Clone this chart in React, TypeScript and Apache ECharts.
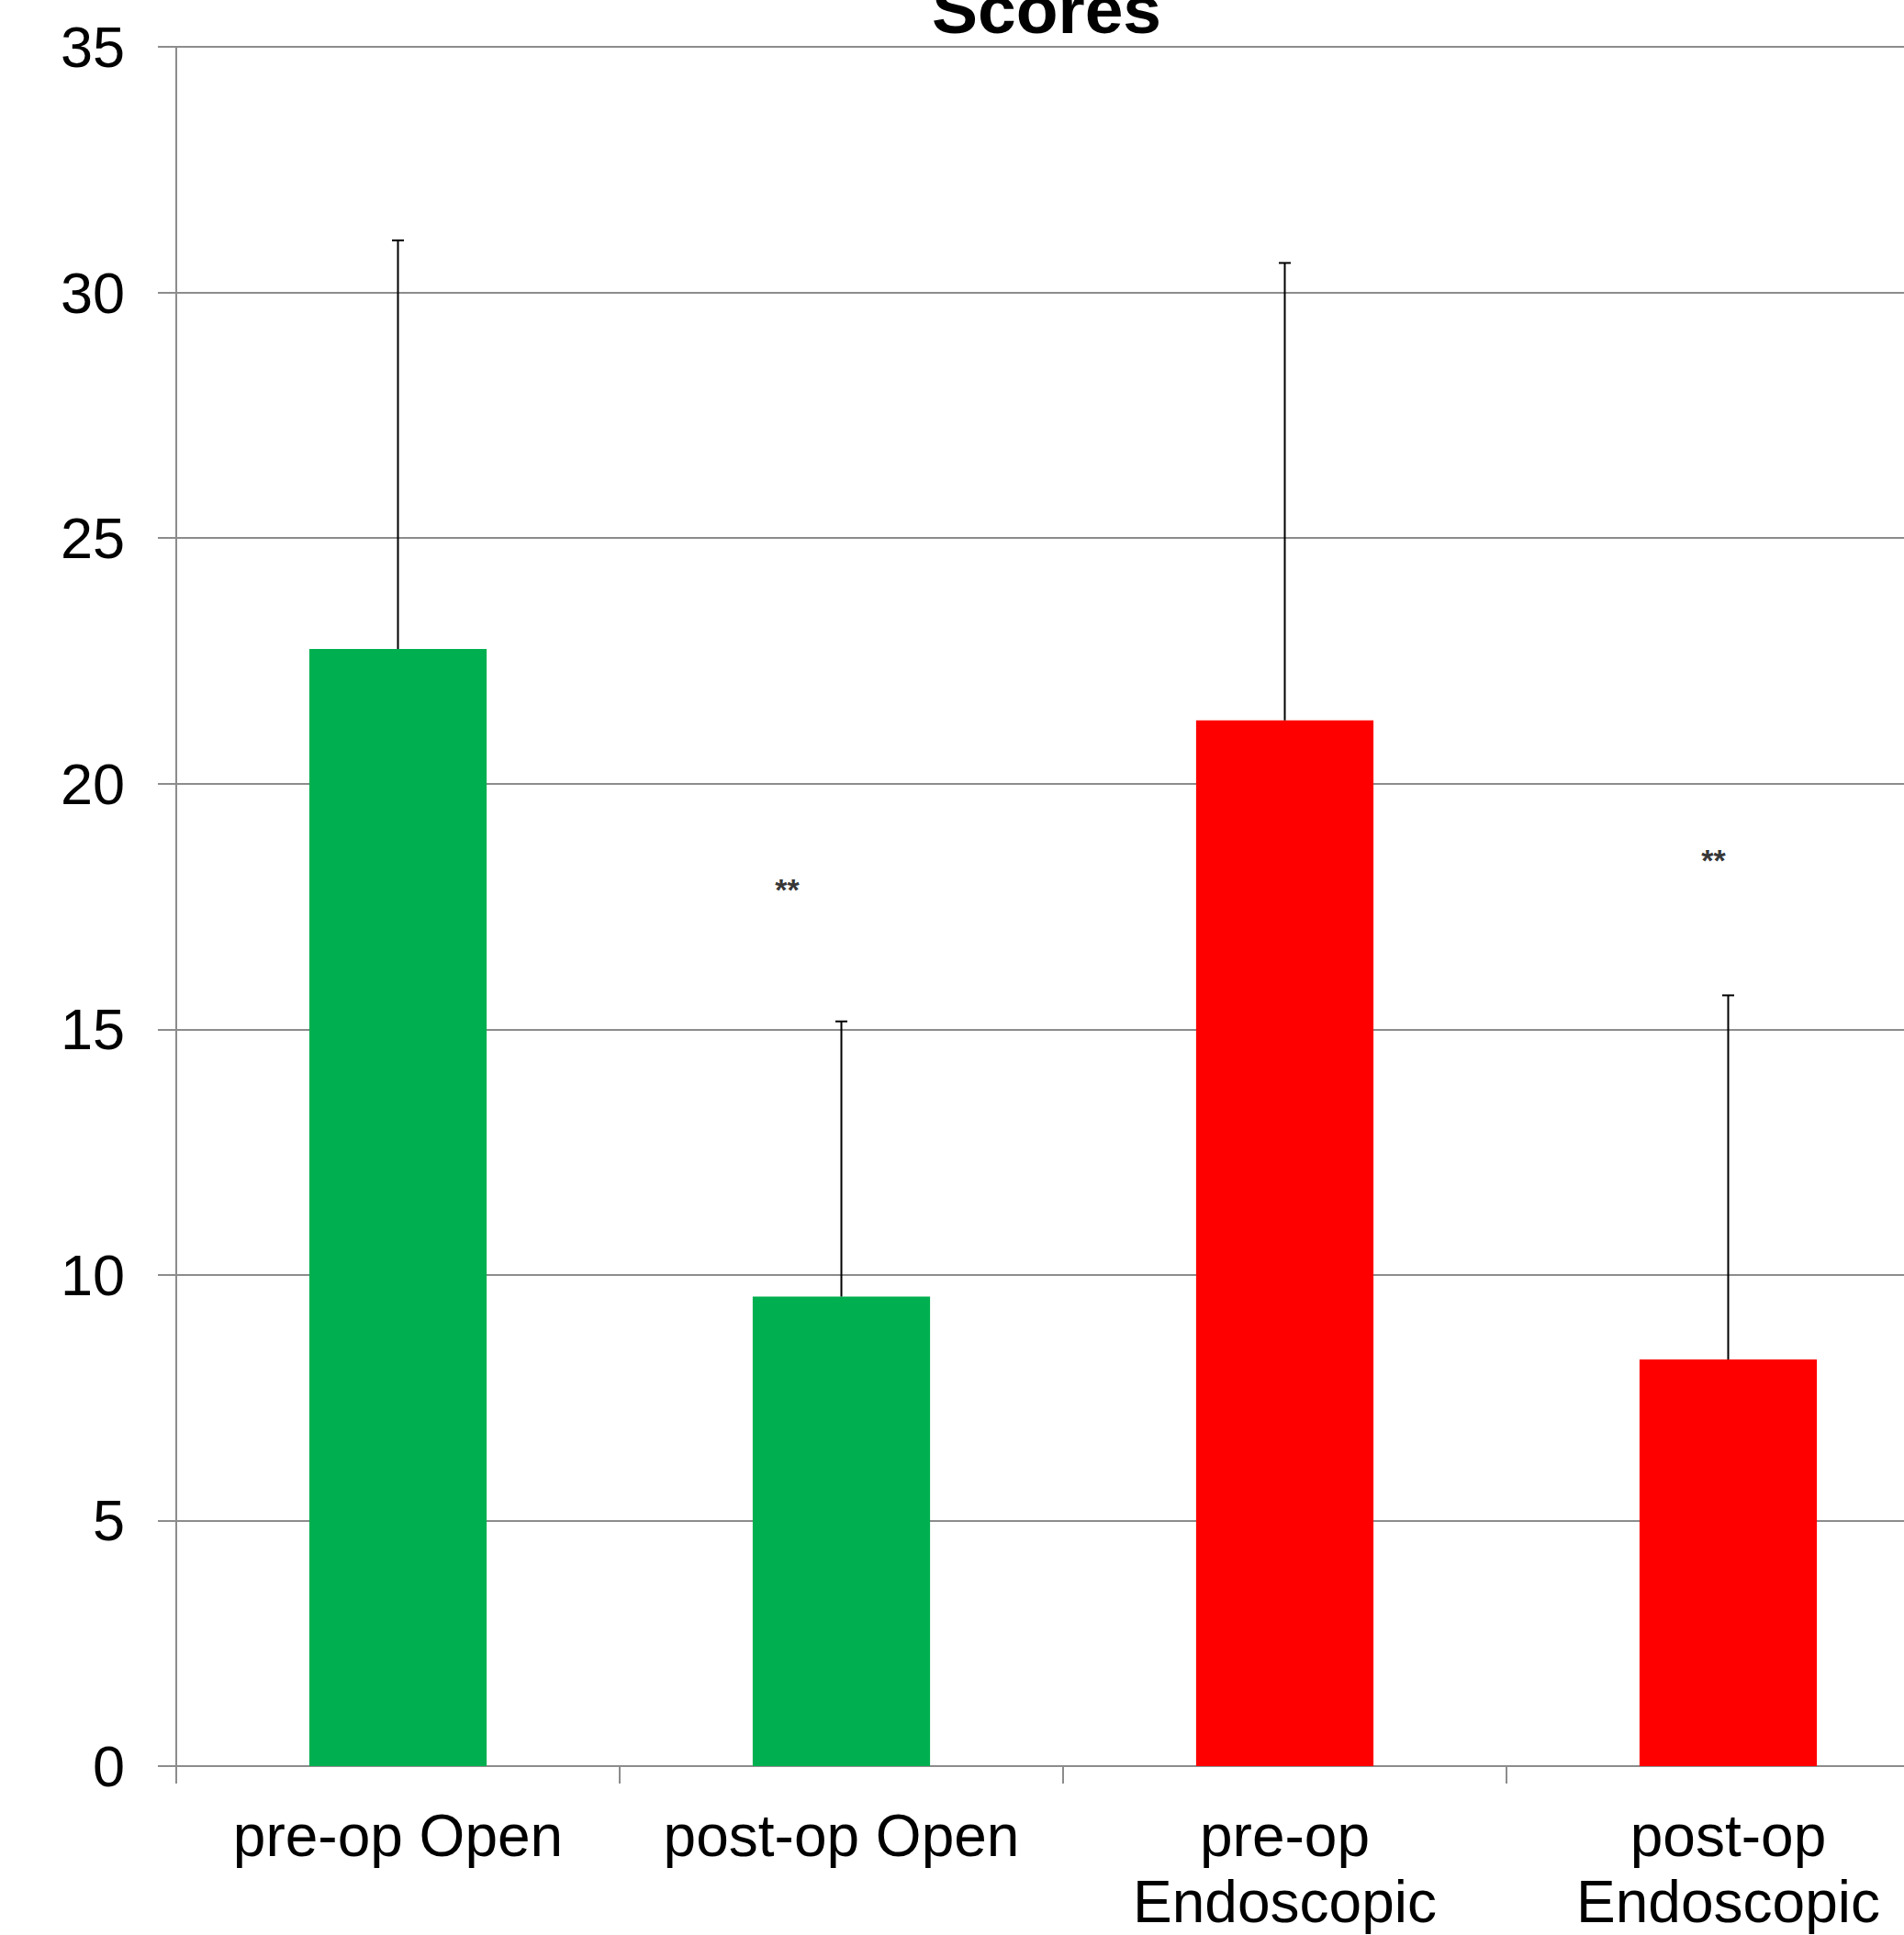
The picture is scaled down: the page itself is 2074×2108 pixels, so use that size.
import React, { useEffect, useRef } from "react";
import * as echarts from "echarts";

const categories = ["pre-op Open", "post-op Open", "pre-op\nEndoscopic", "post-op\nEndoscopic"];
const barValues = [22.74, 9.56, 21.29, 8.28];
const errorTops = [31.06, 15.16, 30.6, 15.69];
const barColors = ["#00B050", "#00B050", "#FF0000", "#FF0000"];
const yTicks = { min: 0, max: 35, interval: 5 };
const sigMarks = [
  { index: 1, value: 17.92, text: "**", dx: -59 },
  { index: 3, value: 18.52, text: "**", dx: -16 },
];
const titleText = "Scores";

export default function App() {
  const ref = useRef<HTMLDivElement>(null);
  useEffect(() => {
    document.body.style.margin = "0";
    document.documentElement.style.overflow = "hidden";
    const chart = echarts.init(ref.current!, null, { renderer: "svg" });
    const font = "'Liberation Sans', Arial, sans-serif";
    chart.setOption({
      animation: false,
      backgroundColor: "#ffffff",
      textStyle: { fontFamily: font },
      grid: { left: 192, top: 51, width: 1932, height: 1873, containLabel: false },
      graphic: [
        {
          type: "text",
          x: 1140,
          y: 47,
          style: {
            text: titleText,
            font: `bold 75px ${font}`,
            fill: "#000",
            align: "center",
            verticalAlign: "bottom",
          },
        },
      ],
      xAxis: {
        type: "category",
        data: categories,
        boundaryGap: true,
        axisLine: { lineStyle: { color: "#8c8c8c", width: 2 } },
        axisTick: { show: true, alignWithLabel: false, length: 19, lineStyle: { color: "#8c8c8c", width: 2 } },
        axisLabel: { color: "#000", fontSize: 64, lineHeight: 72, margin: 40, fontFamily: font, interval: 0 },
        splitLine: { show: false },
      },
      yAxis: {
        type: "value",
        min: yTicks.min,
        max: yTicks.max,
        interval: yTicks.interval,
        axisLine: { show: true, lineStyle: { color: "#8c8c8c", width: 2 } },
        axisTick: { show: true, length: 20, lineStyle: { color: "#8c8c8c", width: 2 } },
        axisLabel: { color: "#000", fontSize: 63, margin: 56, fontFamily: font },
        splitLine: { show: true, lineStyle: { color: "#8c8c8c", width: 2 } },
      },
      series: [
        {
          type: "bar",
          barWidth: "40%",
          data: barValues.map((v, i) => ({ value: v, itemStyle: { color: barColors[i] } })),
          z: 2,
        },
        {
          type: "custom",
          z: 3,
          data: barValues.map((v, i) => [i, v, errorTops[i]]),
          renderItem: (params: any, api: any) => {
            const base = api.coord([api.value(0), api.value(1)]);
            const top = api.coord([api.value(0), api.value(2)]);
            const capHalf = 6.5;
            const style = { stroke: "#000", lineWidth: 2 };
            return {
              type: "group",
              children: [
                { type: "line", shape: { x1: base[0], y1: base[1], x2: top[0], y2: top[1] }, style },
                { type: "line", shape: { x1: top[0] - capHalf, y1: top[1], x2: top[0] + capHalf, y2: top[1] }, style },
              ],
            };
          },
        },
        {
          type: "scatter",
          symbolSize: 0,
          z: 4,
          data: sigMarks.map((m) => ({
            value: [m.index, m.value],
            label: {
              show: true,
              position: "inside",
              formatter: m.text,
              offset: [m.dx, 4],
              color: "#000",
              fontSize: 34,
              fontWeight: "bold",
              fontFamily: font,
            },
          })),
        },
      ],
    });
    return () => chart.dispose();
  }, []);
  return (
    <div style={{ position: "absolute", left: 0, top: 0, width: 2074, height: 2108, overflow: "hidden" }}>
      <div ref={ref} style={{ width: 2200, height: 2108 }} />
    </div>
  );
}
